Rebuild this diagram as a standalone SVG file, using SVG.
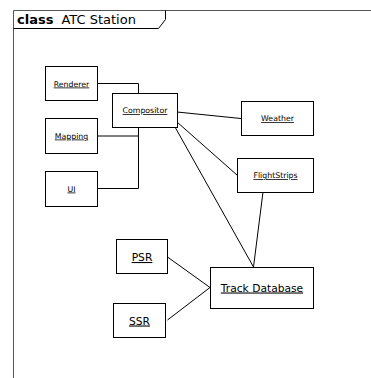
<svg xmlns="http://www.w3.org/2000/svg" width="371" height="378" viewBox="0 0 371 378">
<style>
.box{fill:#fff;stroke:#000;stroke-width:1}
.t{font-family:"DejaVu Sans",Verdana,sans-serif;text-anchor:middle;text-decoration:underline;fill:#000}
.s{font-size:7.8px}
.l{font-size:10.7px}
.c{fill:none;stroke:#000;stroke-width:1}
</style>
<rect width="371" height="378" fill="#fff"/>
<g id="frame">
<path d="M13.5,390 V10.5 H380" fill="none" stroke="#555" stroke-width="1"/>
<path d="M13.5,28.5 H158.5 L165.5,19.5 V10.5" fill="none" stroke="#000" stroke-width="1"/>
<text x="17" y="24" font-family="DejaVu Sans,Verdana,sans-serif" font-size="13"><tspan font-weight="bold">class</tspan><tspan dx="8">ATC Station</tspan></text>
</g>
<g id="connectors">
<path class="c" d="M97,83.5 H138.5 V93"/>
<path class="c" d="M97,136 H138.5"/>
<path class="c" d="M138.5,127 V188.5 H97"/>
<path class="c" d="M177,112 L241,118.5"/>
<path class="c" d="M177,122 L237,175"/>
<path class="c" d="M175,127 L253.5,267"/>
<path class="c" d="M263,192 L253.5,267"/>
<path class="c" d="M167.5,257 L210,287.5"/>
<path class="c" d="M167.5,320 L210,287.5"/>
</g>
<g id="Renderer"><rect class="box" x="45.5" y="66.5" width="52" height="34"/><text class="t s" x="71.5" y="86.5">Renderer</text></g>
<g id="Mapping"><rect class="box" x="45.5" y="118.5" width="52" height="35"/><text class="t s" x="71.5" y="138.5">Mapping</text></g>
<g id="UI"><rect class="box" x="45.5" y="171.5" width="52" height="35"/><text class="t s" x="71.5" y="191.5">UI</text></g>
<g id="Compositor"><rect class="box" x="112.5" y="93.5" width="65" height="34"/><text class="t s" x="145" y="113">Compositor</text></g>
<g id="Weather"><rect class="box" x="241.5" y="101.5" width="72" height="34"/><text class="t s" x="277.5" y="121">Weather</text></g>
<g id="FlightStrips"><rect class="box" x="237.5" y="158.5" width="76" height="34"/><text class="t s" x="275.5" y="178">FlightStrips</text></g>
<g id="TrackDatabase"><rect class="box" x="210.5" y="267.5" width="103" height="41"/><text class="t l" x="262" y="291.5">Track Database</text></g>
<g id="PSR"><rect class="box" x="116.5" y="239.5" width="51" height="34"/><text class="t l" x="142" y="261">PSR</text></g>
<g id="SSR"><rect class="box" x="113.5" y="303.5" width="52" height="34"/><text class="t l" x="139.5" y="324.5">SSR</text></g>
</svg>
